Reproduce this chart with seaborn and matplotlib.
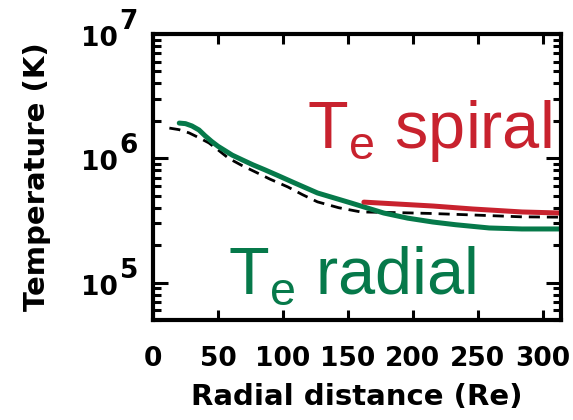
import numpy as np
import pandas as pd
import matplotlib
matplotlib.use("Agg")
import matplotlib.pyplot as plt
import seaborn as sns
from matplotlib.transforms import blended_transform_factory, offset_copy

# ---- data ----
r_model = [12.6, 20, 27.8, 35, 43, 50, 58.2, 68, 78.7, 90, 103.8, 115, 126.6, 143, 160, 190.4, 213.2, 245.9, 283.9, 313]
t_model = [1.75e6, 1.7e6, 1.6e6, 1.47e6, 1.33e6, 1.17e6, 1.0e6, 8.8e5, 7.77e5, 6.8e5, 5.88e5, 5.1e5, 4.46e5, 4.0e5, 3.7e5, 3.65e5, 3.6e5, 3.5e5, 3.38e5, 3.36e5]

r_radial = [20.2, 25, 30, 35.4, 40, 45, 50, 55, 61, 68.8, 77, 86.3, 97, 109, 126.6, 152.4, 177.5, 196, 215.5, 233, 258.8, 283.9, 312.7]
t_radial = [1.92e6, 1.9e6, 1.82e6, 1.69e6, 1.52e6, 1.37e6, 1.25e6, 1.16e6, 1.06e6, 9.7e5, 8.85e5, 8.06e5, 7.2e5, 6.33e5, 5.26e5, 4.37e5, 3.63e5, 3.3e5, 3.07e5, 2.92e5, 2.75e5, 2.7e5, 2.7e5]

r_spiral = [162.3, 215.5, 245.9, 283.9, 312.7]
t_spiral = [4.44e5, 4.13e5, 3.91e5, 3.7e5, 3.63e5]

x_ticks = [0, 50, 100, 150, 200, 250, 300]
y_ticks = [1e5, 1e6, 1e7]
x_label = "Radial distance (Re)"
y_label = "Temperature (K)"
label_spiral = r"T$_{\mathrm{e}}$ spiral"
label_radial = r"T$_{\mathrm{e}}$ radial"

RED = "#c8222e"
GREEN = "#06794a"

sns.set_style("ticks")
plt.rcParams["font.family"] = ["DejaVu Sans"]
plt.rcParams["text.color"] = "black"
plt.rcParams["axes.labelcolor"] = "black"
plt.rcParams["xtick.color"] = "black"
plt.rcParams["ytick.color"] = "black"
plt.rcParams["mathtext.fontset"] = "custom"
plt.rcParams["mathtext.rm"] = "Liberation Sans"

W, H = 573, 420
fig = plt.figure(figsize=(W / 100, H / 100), dpi=100)
L, R, T, B = 153, 561, 34, 320
ax = fig.add_axes([L / W, (H - B) / H, (R - L) / W, (B - T) / H])

df_m = pd.DataFrame({"r": r_model, "T": t_model})
df_r = pd.DataFrame({"r": r_radial, "T": t_radial})
df_s = pd.DataFrame({"r": r_spiral, "T": t_spiral})

sns.lineplot(data=df_m, x="r", y="T", ax=ax, color="black", lw=2.0,
             linestyle=(0, (4, 2.5)), sort=False)
sns.lineplot(data=df_r, x="r", y="T", ax=ax, color=GREEN, lw=3.6, sort=False)
sns.lineplot(data=df_s, x="r", y="T", ax=ax, color=RED, lw=3.6, sort=False)

ax.set_yscale("log")
ax.set_xlim(5, 314)
ax.set_ylim(5e4, 1e7)

for s in ax.spines.values():
    s.set_linewidth(3)
    s.set_color("black")

fs = 19
ax.set_xticks(x_ticks)
ax.set_xticklabels([str(v) for v in x_ticks], fontsize=fs, fontweight="bold")
ax.tick_params(axis="x", which="major", direction="in", length=7, width=2.2,
               top=True, bottom=True, pad=19)
ax.tick_params(axis="x", which="minor", bottom=False, top=False)
ax.set_yticks(y_ticks)
ax.set_yticklabels([])
ax.tick_params(axis="y", which="major", direction="in", length=11, width=2.2,
               left=True, right=True)
ax.tick_params(axis="y", which="minor", direction="in", length=6, width=2.2,
               left=True, right=True)
ax.yaxis.set_minor_formatter(matplotlib.ticker.NullFormatter())

# IDL-style y tick labels: 10 with a full-size exponent
ty = blended_transform_factory(ax.transAxes, ax.transData)
for v in y_ticks:
    e = int(round(np.log10(v)))
    ax.text(0, v, "10", fontsize=fs, fontweight="bold", ha="right", va="center",
            transform=offset_copy(ty, fig, x=-35, y=-5, units="dots"), clip_on=False)
    ax.text(0, v, str(e), fontsize=fs, fontweight="bold", ha="right", va="center",
            transform=offset_copy(ty, fig, x=-15, y=12, units="dots"), clip_on=False)

ax.set_xlabel(x_label, fontsize=21, fontweight="bold", labelpad=8)
ax.set_ylabel(y_label, fontsize=21, fontweight="bold", labelpad=70)

ax.text(0.377, 0.601, label_spiral, color=RED, fontsize=48, ha="left",
        va="baseline", transform=ax.transAxes, family="Liberation Sans")
ax.text(0.184, 0.091, label_radial, color=GREEN, fontsize=48, ha="left",
        va="baseline", transform=ax.transAxes, family="Liberation Sans")

fig.savefig("out.png", dpi=100)
